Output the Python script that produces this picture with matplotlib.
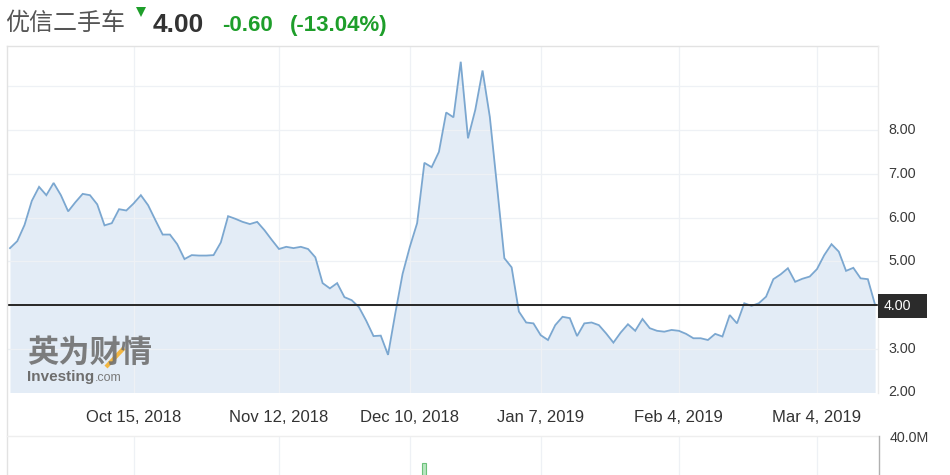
import matplotlib
matplotlib.use('Agg')
import matplotlib.pyplot as plt
import numpy as np
import pandas as pd
from matplotlib.lines import Line2D
from matplotlib.patches import Rectangle
from matplotlib.transforms import blended_transform_factory

plt.rcParams['font.family'] = ['Liberation Sans', 'Noto Sans CJK SC', 'DejaVu Sans']

# ---------------- data ----------------
holidays = ['2018-11-22', '2018-12-05', '2018-12-25', '2019-01-01', '2019-01-21', '2019-02-18']
dates = pd.bdate_range('2018-09-20', '2019-03-14', freq='C', holidays=holidays)

prices = [
    5.30, 5.46, 5.83, 6.38, 6.70, 6.51, 6.79, 6.51, 6.14, 6.35,
    6.54, 6.51, 6.30, 5.82, 5.87, 6.19, 6.16, 6.32, 6.51, 6.28,
    5.94, 5.61, 5.61, 5.39, 5.05, 5.14, 5.13, 5.13, 5.14, 5.43,
    6.03, 5.97, 5.90, 5.85, 5.90, 5.71, 5.49, 5.28, 5.33, 5.30,
    5.33, 5.28, 5.09, 4.50, 4.38, 4.50, 4.18, 4.11, 3.95, 3.64,
    3.29, 3.30, 2.86, 3.81, 4.71, 5.33, 5.87, 7.25, 7.15, 7.50,
    8.40, 8.29, 9.56, 7.81, 8.46, 9.36, 8.30, 6.70, 5.07, 4.86,
    3.85, 3.60, 3.58, 3.31, 3.20, 3.54, 3.73, 3.70, 3.29, 3.58,
    3.60, 3.54, 3.35, 3.14, 3.37, 3.56, 3.41, 3.68, 3.47, 3.41,
    3.39, 3.43, 3.41, 3.34, 3.24, 3.24, 3.20, 3.34, 3.28, 3.77,
    3.58, 4.04, 3.98, 4.04, 4.19, 4.59, 4.70, 4.84, 4.53, 4.60,
    4.65, 4.82, 5.14, 5.39, 5.22, 4.78, 4.85, 4.61, 4.59, 4.00,
]

tick_dates = ['2018-10-15', '2018-11-12', '2018-12-10', '2019-01-07', '2019-02-04', '2019-03-04']
tick_labels = ['Oct 15, 2018', 'Nov 12, 2018', 'Dec 10, 2018', 'Jan 7, 2019', 'Feb 4, 2019', 'Mar 4, 2019']

y_ticks = [2, 3, 4, 5, 6, 7, 8, 9]
y_labels = ['2.00', '3.00', '', '5.00', '6.00', '7.00', '8.00', '']

vol_dates = ['2018-12-12']
vol_values = [31.5e6]

title_name = '优信二手车'
last_price = 4.00
change = '-0.60'
change_pct = '(-13.04%)'

# ---------------- layout helpers ----------------
W, H = 950, 475
fig = plt.figure(figsize=(W / 100, H / 100), dpi=100)
fig.patch.set_facecolor('white')


def fx(p):
    return p / W


def fy(p):
    return 1 - p / H


PX_PER_DAY = 7.27
X0 = 10.0
xlim = ((7 - X0) / PX_PER_DAY, (878 - X0) / PX_PER_DAY)

x = np.arange(len(prices))
tick_pos = [dates.get_loc(pd.Timestamp(d)) for d in tick_dates]

grid_c = '#eef1f5'
green = '#1e9e2a'

# ---------------- price axes ----------------
ax = fig.add_axes([fx(7), fy(392.5), fx(878) - fx(7), (392.5 - 46) / H])
ax.set_axis_off()
ax.set_xlim(*xlim)
ax.set_ylim(2.0, 9.92)

ax.fill_between(x, prices, 2.0, color='#e3ecf6', lw=0, zorder=1)
for t in tick_pos:
    ax.axvline(t, color=grid_c, lw=0.9, zorder=2)
for yv in y_ticks[1:]:
    ax.axhline(yv, color=grid_c, lw=0.9, zorder=2)
ax.plot(x, prices, color='#7ba7d0', lw=1.3, zorder=3, solid_joinstyle='miter')
ax.axhline(last_price, color='#262626', lw=1.4, zorder=4)

ytr = blended_transform_factory(fig.transFigure, ax.transData)
for v, lab in zip(y_ticks, y_labels):
    if lab:
        ax.text(fx(888), v, lab, transform=ytr, ha='left', va='center',
                fontsize=10.3, color='#3a3a3a', clip_on=False)

xtr = blended_transform_factory(ax.transData, fig.transFigure)
for p, lab in zip(tick_pos, tick_labels):
    ax.text(p, fy(418), lab, transform=xtr, ha='center', va='center',
            fontsize=12, color='#333333', clip_on=False)

# last price box
fig.add_artist(Rectangle((fx(878), fy(318)), fx(49), 24 / H, transform=fig.transFigure,
                         facecolor='#2b2b2b', edgecolor='none', zorder=5))
fig.text(fx(884), fy(306.5), f'{last_price:.2f}', ha='left', va='center',
         fontsize=10.3, color='white', zorder=6)

# ---------------- volume axes ----------------
vax = fig.add_axes([fx(7), fy(560), fx(878) - fx(7), (560 - 437) / H])
vax.set_axis_off()
vax.set_xlim(*xlim)
vax.set_ylim(0, 40e6)
for t in tick_pos:
    vax.axvline(t, color=grid_c, lw=0.9, zorder=1)
vpos = [dates.get_loc(pd.Timestamp(d)) for d in vol_dates]
vax.bar(vpos, vol_values, width=0.55, color='#b8e6c0', edgecolor='#6cc17a', lw=0.8, zorder=2)
fig.text(fx(890), fy(437.5), '40.0M', ha='left', va='center', fontsize=10.3, color='#3a3a3a')

# ---------------- frame lines ----------------
def fline(xs, ys, color, lw=1.0):
    fig.add_artist(Line2D([fx(v) for v in xs], [fy(v) for v in ys],
                          transform=fig.transFigure, color=color, lw=lw, zorder=0.5))


fline([7, 7], [46, 475], '#e2e2e2')
fline([7, 878], [46, 46], '#e2e2e2')
fline([878, 878], [46, 392.5], '#ececec')
fline([7, 878], [436, 436], '#eeeeee')
fline([879, 879], [436, 475], '#b0b0b0')

# ---------------- watermark ----------------
fig.text(fx(27), fy(353), '英为财情', ha='left', va='center', fontsize=22.5,
         fontweight='bold', family=['Noto Sans CJK SC'], color='#707070', alpha=0.9)
fig.add_artist(Line2D([fx(106), fx(124)], [fy(367), fy(348)], transform=fig.transFigure,
                      color='#f4b12e', lw=3, alpha=0.9, solid_capstyle='butt'))
fig.text(fx(27), fy(377), 'Investing', ha='left', va='center', fontsize=11,
         fontweight='bold', color='#6e6e6e')
fig.text(fx(95), fy(378), '.com', ha='left', va='center', fontsize=9, color='#7a7a7a')

# ---------------- title ----------------
fig.text(fx(5), fy(22.5), title_name, ha='left', va='center', fontsize=17.3,
         family=['Noto Sans CJK SC'], color='#555555')
fig.add_artist(Line2D([fx(141)], [fy(12)], transform=fig.transFigure, marker='v',
                      markersize=7, color=green, markeredgewidth=0))
fig.text(fx(153), fy(32), f'{last_price:.2f}', ha='left', va='baseline', fontsize=19,
         fontweight='bold', color='#333333')
fig.text(fx(222), fy(31), change, ha='left', va='baseline', fontsize=16,
         fontweight='bold', color=green)
fig.text(fx(290), fy(31), change_pct, ha='left', va='baseline', fontsize=16,
         fontweight='bold', color=green)

fig.savefig('out.png', dpi=100)
